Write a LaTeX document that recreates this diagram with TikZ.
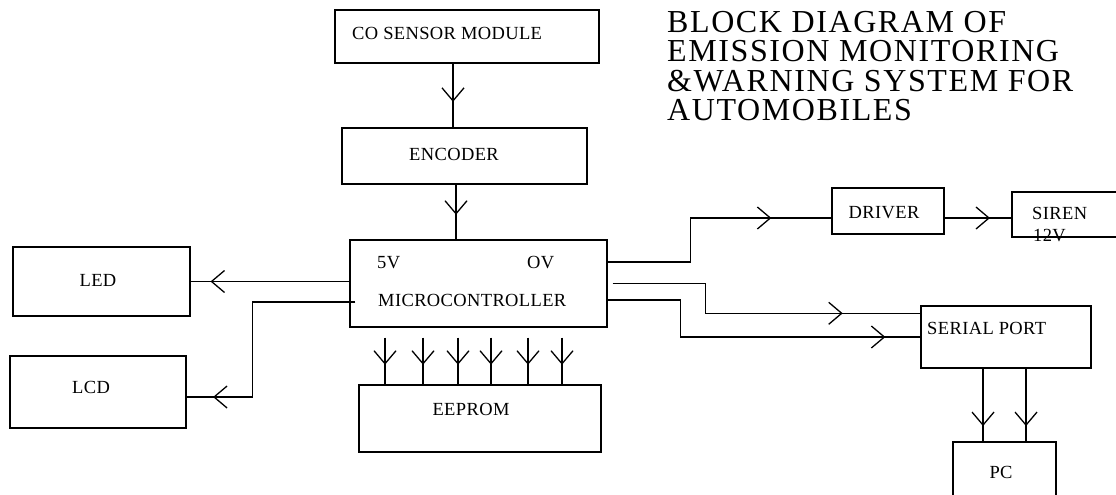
\documentclass[tikz,border=0pt]{standalone}
\usepackage{fontspec}
\setmainfont{Liberation Serif}
\newfontfamily\boxfont[LetterSpace=2]{Liberation Serif}
\newfontfamily\titlefont[LetterSpace=5]{Liberation Serif}
\usetikzlibrary{arrows.meta, positioning, calc, decorations.markings}
\tikzset{
    font=\boxfont\fontsize{18.5}{21}\selectfont,
    % Shapes
    blk/.style={rectangle, draw, line width=1.4pt, inner sep=0pt},
    txt/.style={inner sep=0pt, anchor=west},
    ctxt/.style={inner sep=0pt, anchor=center},
    title/.style={inner sep=0pt, align=left, anchor=north west,
                  font=\titlefont\fontsize{32}{29.5}\selectfont},
    % Flow
    flow/.style={line width=1.4pt},
    arr/.style={postaction={decorate},
                decoration={markings, mark=at position #1 with
                  {\arrow{Straight Barb[length=13pt, width=22pt, line width=1.3pt]}}}}
}

\begin{document}
\begin{tikzpicture}[x=1pt, y=-1pt]

\useasboundingbox (0,0) rectangle (1116,495);
\clip (0,0) rectangle (1116,495);

% Blocks
\node[blk, minimum width=264pt, minimum height=53pt] (co) at (467,36.5) {};
\node[blk, minimum width=245pt, minimum height=56pt] (enc) at (464.5,156) {};
\node[blk, minimum width=257pt, minimum height=87pt] (micro) at (478.5,283.5) {};
\node[blk, minimum width=242pt, minimum height=67pt] (eeprom) at (480,418.5) {};
\node[blk, minimum width=177pt, minimum height=69pt] (led) at (101.5,281.5) {};
\node[blk, minimum width=176pt, minimum height=72pt] (lcd) at (98,392) {};
\node[blk, minimum width=112pt, minimum height=46pt] (driver) at (888,211) {};
\node[blk, minimum width=118pt, minimum height=45pt] (siren) at (1071,214.5) {};
\node[blk, minimum width=170pt, minimum height=62pt] (serial) at (1006,337) {};
\node[blk, minimum width=103pt, minimum height=68pt] (pc) at (1004.5,476) {};

% Texts
\node[txt] (coname) at (352,33) {CO SENSOR MODULE};
\node[ctxt] (encname) at (454,154) {ENCODER};
\node[txt] (fivev) at (377,263) {5V};
\node[txt] (zerov) at (527,263) {OV};
\node[txt] (microname) at (378,300) {MICROCONTROLLER};
\node[ctxt] (eepromname) at (471,409) {EEPROM};
\node[ctxt] (ledname) at (98,280) {LED};
\node[ctxt] (lcdname) at (91,387) {LCD};
\node[ctxt] (drivername) at (884,213) {DRIVER};
\node[txt] (sirenname) at (1032,213) {SIREN};
\node[txt] (sirenvolt) at (1033,236) {12V};
\node[txt] (serialname) at (927,328) {SERIAL PORT};
\node[ctxt] (pcname) at (1001,472) {PC};
\node[title] (heading) at (667,11) {BLOCK DIAGRAM OF\\EMISSION MONITORING\\\&WARNING SYSTEM FOR\\AUTOMOBILES};

% Connections
\draw[flow, arr=0.6] ([xshift=-14pt]co.south) -- ([xshift=-14pt]co.south |- enc.north);
\draw[flow, arr=0.55] ([xshift=-8.5pt]enc.south) -- ([xshift=-8.5pt]enc.south |- micro.north);
\foreach \dx in {-93.5,-55.5,-20.5,12.5,49.5,83.5}
  \draw[flow, arr=0.58] ([xshift=\dx pt, yshift=-10pt]micro.south) -- ([xshift=\dx pt]micro.south |- eeprom.north);
\draw[flow, arr=0.875] (led.east -| micro.west) -- (led.east);
\draw[flow, arr=0.9] ([xshift=6pt, yshift=-18.5pt]micro.west) -- ++(-103,0) |- ([yshift=-5pt]lcd.east);
\draw[flow, arr=0.776] ([yshift=21.5pt]micro.east) -- ++(83,0) |- ([yshift=-7pt]driver.west);
\draw[flow, arr=0.68] ([yshift=-7pt]driver.east) -- ([yshift=-7pt]driver.east -| siren.west);
\draw[flow, arr=0.77] ([xshift=5pt]micro.east) -- ++(93,0) |- ([yshift=-8pt]serial.north west);
\draw[flow, arr=0.9] ([yshift=-16.5pt]micro.east) -- ++(73,0) |- (serial.west);
\draw[flow, arr=0.79] ([xshift=-23pt]serial.south) -- ([xshift=-23pt]serial.south |- pc.north);
\draw[flow, arr=0.79] ([xshift=20pt]serial.south) -- ([xshift=20pt]serial.south |- pc.north);

\end{tikzpicture}
\end{document}
